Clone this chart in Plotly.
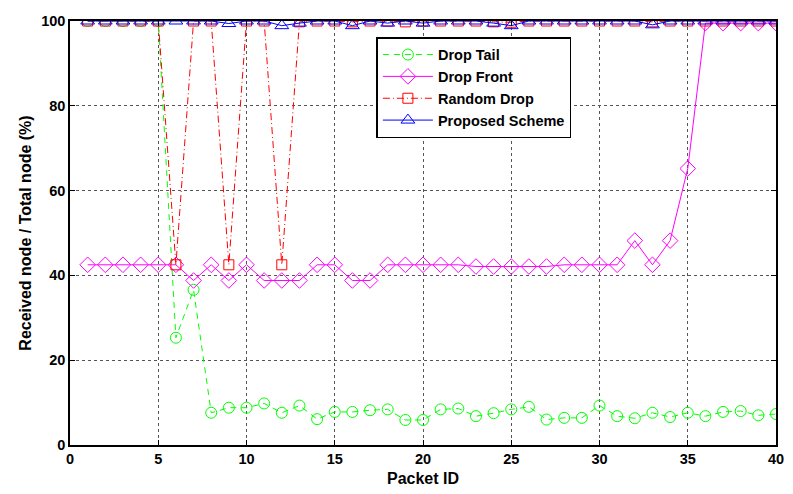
import plotly.graph_objects as go

packet_id = list(range(1, 41))

drop_tail = [100, 100, 100, 100, 100, 25.3, 36.6, 7.6, 8.8, 8.8,
             9.8, 7.6, 9.3, 6.1, 7.8, 7.8, 8.2, 8.4, 5.9, 5.9,
             8.4, 8.6, 6.8, 7.5, 8.4, 9.0, 6.0, 6.4, 6.4, 9.3,
             6.8, 6.3, 7.6, 6.6, 7.6, 6.8, 7.8, 8.0, 7.0, 7.3]

drop_front = [42.5, 42.5, 42.5, 42.5, 42.5, 42.5, 38.8, 42.5, 38.8, 42.5,
              38.8, 38.8, 38.8, 42.5, 42.5, 38.8, 38.8, 42.5, 42.5, 42.5,
              42.5, 42.5, 42.1, 42.1, 42.1, 42.1, 42.1, 42.5, 42.5, 42.5,
              42.5, 48.2, 42.5, 48.2, 65.2, 99.5, 99.5, 99.5, 99.5, 99.5]

random_drop = [100, 100, 100, 100, 100, 42.5, 100, 100, 42.5, 100,
               100, 42.5, 99.8, 100, 100, 99.8, 100, 100, 99.8, 100,
               100, 100, 100, 99.8, 99.7, 100, 100, 100, 100, 100,
               100, 100, 99.8, 100, 100, 100, 100, 100, 100, 100]

proposed = [100, 100, 100, 100, 100, 100, 100, 100, 99.4, 100,
            100, 98.9, 99.5, 100, 100, 98.9, 100, 99.5, 100, 99.5,
            100, 100, 100, 99.5, 98.9, 100, 100, 100, 100, 100,
            100, 100, 99.1, 100, 100, 100, 100, 100, 100, 100]

series_names = ["Drop Tail", "Drop Front", "Random Drop", "Proposed Scheme"]
x_ticks = [0, 5, 10, 15, 20, 25, 30, 35, 40]
y_ticks = [0, 20, 40, 60, 80, 100]

fig = go.Figure()
fig.add_trace(go.Scatter(
    x=packet_id, y=drop_tail, name=series_names[0], mode="lines+markers",
    line=dict(color="#00ff00", width=1, dash="6px,5px"),
    marker=dict(symbol="circle-open", size=11, color="#00ff00", line=dict(width=1))))
fig.add_trace(go.Scatter(
    x=packet_id, y=drop_front, name=series_names[1], mode="lines+markers",
    line=dict(color="#ff00ff", width=1),
    marker=dict(symbol="diamond-open", size=12, color="#ff00ff", line=dict(width=1))))
fig.add_trace(go.Scatter(
    x=packet_id, y=random_drop, name=series_names[2], mode="lines+markers",
    line=dict(color="#ff0000", width=1, dash="7px,3px,1px,3px"),
    marker=dict(symbol="square-open", size=10, color="#ff0000", line=dict(width=1))))
fig.add_trace(go.Scatter(
    x=packet_id, y=proposed, name=series_names[3], mode="lines+markers",
    line=dict(color="#0000ff", width=1),
    marker=dict(symbol="triangle-up-open", size=12, color="#0000ff", line=dict(width=1))))

font_main = "Liberation Sans, Arial, sans-serif"

fig.update_layout(
    width=793, height=494,
    margin=dict(l=70, r=9, t=21, b=49),
    paper_bgcolor="white", plot_bgcolor="white",
    font=dict(family=font_main, color="black", size=14),
    legend=dict(
        x=0.434, y=0.962, xanchor="left", yanchor="top",
        bgcolor="white", bordercolor="black", borderwidth=1.5,
        font=dict(size=14.5, family=font_main, weight="bold"),
        itemwidth=50, tracegroupgap=0,
    ),
    xaxis=dict(
        range=[0, 40], tickvals=x_ticks, ticktext=["<b>%d</b>" % v for v in x_ticks],
        showline=True, linecolor="black", linewidth=1.5, mirror="ticks",
        ticks="inside", ticklen=5, tickcolor="black",
        showgrid=True, gridcolor="#555", griddash="dot", gridwidth=1,
        zeroline=False,
        tickfont=dict(size=14.5),
        title=dict(text="<b>Packet ID</b>", font=dict(size=16), standoff=7),
    ),
    yaxis=dict(
        range=[0, 100], tickvals=y_ticks, ticktext=["<b>%d</b>" % v for v in y_ticks],
        showline=True, linecolor="black", linewidth=1.5, mirror="ticks",
        ticks="inside", ticklen=5, tickcolor="black",
        showgrid=True, gridcolor="#555", griddash="dot", gridwidth=1,
        zeroline=False,
        tickfont=dict(size=14.5),
        title=dict(text="<b>Received node / Total node (%)</b>", font=dict(size=16), standoff=6),
    ),
)

fig.write_html("out.html")
